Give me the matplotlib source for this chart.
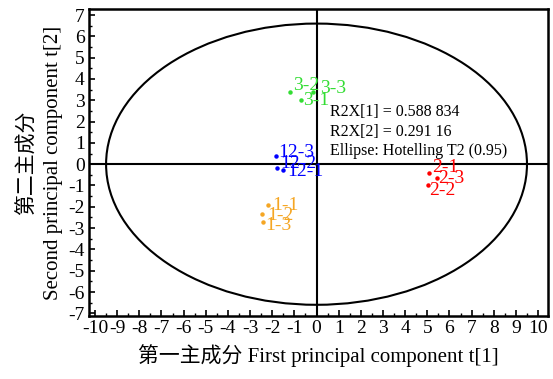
import matplotlib
matplotlib.use('Agg')
import matplotlib.pyplot as plt
from matplotlib.patches import Ellipse
from matplotlib.ticker import MultipleLocator

plt.rcParams['font.family'] = ['Liberation Serif', 'Noto Sans CJK SC']
plt.rcParams['axes.unicode_minus'] = False

# 各サンプルのスコア
names = ['3-2', '3-3', '3-1', '12-3', '12-2', '12-1',
         '2-1', '2-3', '2-2', '1-1', '1-2', '1-3']
t1 = [-1.2, -0.17, -0.7, -1.84, -1.8, -1.53, 5.08, 5.44, 5.04, -2.18, -2.45, -2.43]
t2 = [3.38, 3.38, 3.0, 0.39, -0.16, -0.28, -0.43, -0.66, -0.99, -1.93, -2.32, -2.7]
colors = ['#33dd33'] * 3 + ['#0000ff'] * 3 + ['#ff0000'] * 3 + ['#f5a623'] * 3
# ラベルのずらし(points)
offs = [(2, 5), (5, 3), (1.5, 0), (1.5, 2.7), (2.5, 3), (3, -0.7),
        (2, 4.3), (1, 0), (0.5, -3.6), (3, 0), (3.5, -1.4), (1.5, -3)]

# Hotelling T2 楕円の半径
ell_a = 9.5
ell_b = 6.6
r2x = ['R2X[1] = 0.588 834', 'R2X[2] = 0.291 16', 'Ellipse: Hotelling T2 (0.95)']

fig = plt.figure(figsize=(5.53, 3.79), dpi=100)
ax = fig.add_axes([0.161, 0.166, 0.83, 0.81])

ax.add_patch(Ellipse((0, 0), 2 * ell_a, 2 * ell_b, fill=False, color='black', lw=1.5))
ax.axhline(0, color='black', lw=1.5)
ax.axvline(0, color='black', lw=1.5)

for i in range(len(names)):
    ax.plot(t1[i], t2[i], 'o', ms=2.2, color=colors[i])
    ax.annotate(names[i], (t1[i], t2[i]), xytext=offs[i], textcoords='offset points',
                color=colors[i], fontsize=14, va='center', ha='left')

for k, s in enumerate(r2x):
    ax.text(0.6, 2.44 - k * 0.92, s, fontsize=11.5, va='center', ha='left')

ax.set_xlim(-10.27, 10.45)
ax.set_ylim(-7.13, 7.28)
ax.xaxis.set_major_locator(MultipleLocator(1))
ax.xaxis.set_minor_locator(MultipleLocator(0.5))
ax.yaxis.set_major_locator(MultipleLocator(1))
ax.yaxis.set_minor_locator(MultipleLocator(0.5))
ax.tick_params(which='major', direction='in', length=4, width=1.2, labelsize=14, pad=3)
ax.tick_params(which='minor', direction='in', length=2.5, width=1)
for sp in ax.spines.values():
    sp.set_linewidth(1.8)

ax.set_xlabel('第一主成分 First principal component t[1]', fontsize=15, labelpad=5)
ax.set_ylabel('第二主成分\nSecond principal component t[2]', fontsize=15, labelpad=4,
              linespacing=1.4)

plt.savefig('out.png', dpi=100)
